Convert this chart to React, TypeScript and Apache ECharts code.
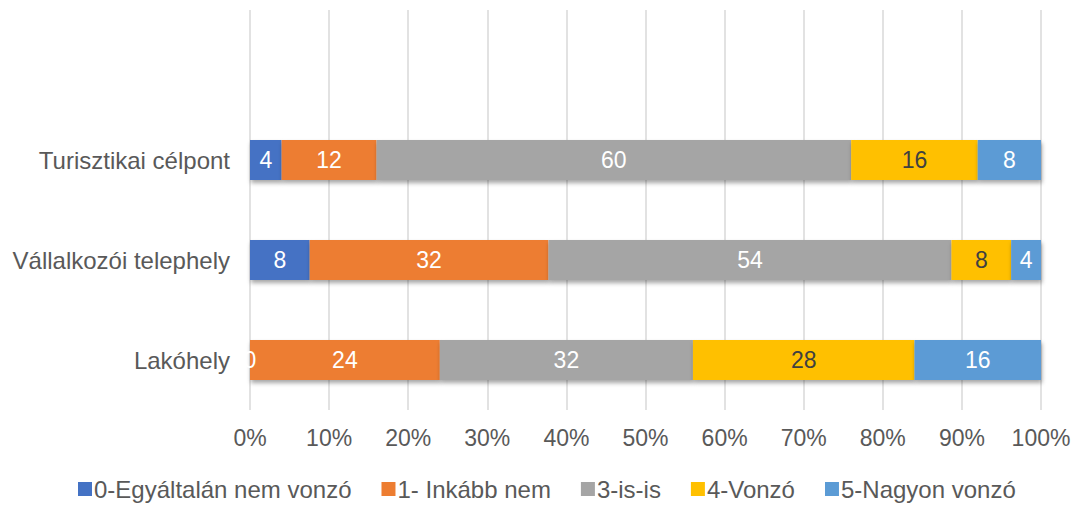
import React, { useEffect, useRef } from "react";
import * as echarts from "echarts";

const categories = ["Lakóhely", "Vállalkozói telephely", "Turisztikai célpont", ""];
const seriesNames = ["0-Egyáltalán nem vonzó", "1- Inkább nem", "3-is-is", "4-Vonzó", "5-Nagyon vonzó"];
const colors = ["#4472C4", "#ED7D31", "#A5A5A5", "#FFC000", "#5B9BD5"];
const labelColors = ["#FFFFFF", "#FFFFFF", "#FFFFFF", "#404040", "#FFFFFF"];
// values per category order: Lakóhely, Vállalkozói telephely, Turisztikai célpont
const v0 = [0, 8, 4];
const v1 = [24, 32, 12];
const v3 = [32, 54, 60];
const v4 = [28, 8, 16];
const v5 = [16, 4, 8];
const tickLabels = ["0%", "10%", "20%", "30%", "40%", "50%", "60%", "70%", "80%", "90%", "100%"];

export default function App() {
  const ref = useRef<HTMLDivElement>(null);
  useEffect(() => {
    if (!ref.current) return;
    const chart = echarts.init(ref.current, undefined, { renderer: "svg" });
    const all = [v0, v1, v3, v4, v5];
    const totals = v0.map((_, i) => all.reduce((s, arr) => s + arr[i], 0));
    const font = "Liberation Sans, Arial, sans-serif";
    const series = all.map((arr, si) => ({
      name: seriesNames[si],
      type: "bar",
      stack: "total",
      barWidth: 40,
      data: arr.map((v, i) => ({ value: (v / totals[i]) * 100, raw: v })),
      itemStyle: {
        color: colors[si],
        shadowBlur: 4,
        shadowOffsetX: 1,
        shadowOffsetY: 3,
        shadowColor: "rgba(0,0,0,0.35)",
      },
      label: {
        show: true,
        position: "inside",
        color: labelColors[si],
        fontSize: 23,
        fontFamily: font,
        formatter: (p: any) => String(p.data.raw),
      },
    }));
    chart.setOption({
      animation: false,
      grid: { left: 250, right: 33, top: 10, bottom: 97 },
      legend: {
        top: 474,
        left: 78,
        padding: 0,
        icon: "rect",
        itemWidth: 14,
        itemHeight: 14,
        itemGap: 30,
        textStyle: { color: "#595959", fontSize: 24, lineHeight: 30, fontFamily: font, padding: [0, 0, 0, -3] },
        data: seriesNames,
      },
      xAxis: {
        type: "value",
        min: 0,
        max: 100,
        interval: 10,
        axisLine: { show: false },
        axisTick: { show: false },
        axisLabel: {
          color: "#595959",
          fontSize: 23,
          fontFamily: font,
          margin: 16,
          formatter: (v: number) => tickLabels[Math.round(v / 10)],
        },
        splitLine: { show: true, lineStyle: { color: "#D9D9D9", width: 1.5 } },
      },
      yAxis: {
        type: "category",
        data: categories,
        axisLine: { show: false },
        axisTick: { show: false },
        axisLabel: { color: "#595959", fontSize: 24, fontFamily: font, margin: 20 },
      },
      series,
    });
    return () => chart.dispose();
  }, []);
  return <div ref={ref} style={{ position: "absolute", left: 0, top: 0, width: 1074, height: 507 }} />;
}
